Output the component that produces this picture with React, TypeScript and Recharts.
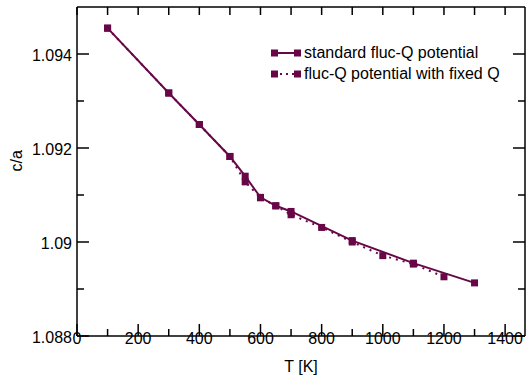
import { LineChart, Line, XAxis, YAxis, ReferenceLine } from "recharts";

const COLOR = "#670748";
const FONT = "'Liberation Sans', Arial, Helvetica, sans-serif";

// standard fluc-Q potential
const standardT = [100, 300, 400, 500, 550, 600, 650, 700, 900, 1100, 1300];
const standardCa = [1.09455, 1.09317, 1.0925, 1.09182, 1.0914, 1.09095, 1.09077, 1.09065, 1.09003, 1.08955, 1.08913];

// fluc-Q potential with fixed Q
const fixedT = [100, 300, 400, 500, 550, 600, 650, 700, 800, 900, 1000, 1100, 1200];
const fixedCa = [1.09455, 1.09317, 1.0925, 1.09182, 1.09128, 1.09094, 1.09077, 1.09058, 1.09031, 1.09, 1.08971, 1.08953, 1.08926];

const xTicks = [0, 100, 200, 300, 400, 500, 600, 700, 800, 900, 1000, 1100, 1200, 1300, 1400];
const yTicks = [1.088, 1.089, 1.09, 1.091, 1.092, 1.093, 1.094, 1.095];

const X_MAX = 1465;
const Y_MIN = 1.088;
const Y_MAX = 1.095;

const standardData = standardT.map((T, i) => ({ T, ca: standardCa[i] }));
const fixedData = fixedT.map((T, i) => ({ T, ca: fixedCa[i] }));

// plot box 448 x 328 px -> tick lengths in data units
const tPerPx = X_MAX / 448;
const yPerPx = (Y_MAX - Y_MIN) / 328;

const isMajorX = (v: number) => v % 200 === 0;
const isMajorY = (v: number) => Math.round(v * 1000) % 2 === 0;

const Square = (props: any) => {
  const { cx, cy, index } = props;
  if (cx == null || cy == null) return null;
  return <rect key={index} x={cx - 3.5} y={cy - 3.5} width={7} height={7} fill={COLOR} />;
};

const BottomTick = (props: any) => {
  const { x, y, payload } = props;
  if (!isMajorX(payload.value)) return <g />;
  return (
    <text x={x} y={y + 8} textAnchor="middle" fontSize={16} fontFamily={FONT} fill="#000" stroke="none">
      {payload.value}
    </text>
  );
};

const LeftTick = (props: any) => {
  const { x, y, payload } = props;
  if (!isMajorY(payload.value)) return <g />;
  return (
    <text x={x - 5} y={y + 6.5} textAnchor="end" fontSize={16} fontFamily={FONT} fill="#000" stroke="none">
      {String(Number(payload.value.toFixed(3)))}
    </text>
  );
};

const LegendBox = () => (
  <svg width={258} height={50} style={{ position: "absolute", left: 270, top: 42 }}>
    <g>
      <line x1={4} x2={27} y1={11} y2={11} stroke={COLOR} strokeWidth={2} />
      <rect x={1} y={7.5} width={7} height={7} fill={COLOR} />
      <rect x={24} y={7.5} width={7} height={7} fill={COLOR} />
      <text x={34} y={16} fontSize={16} fontFamily={FONT} fill="#000">
        standard fluc-Q potential
      </text>
    </g>
    <g>
      <line x1={4} x2={27} y1={32} y2={32} stroke={COLOR} strokeWidth={2} strokeDasharray="2 4" />
      <rect x={1} y={28.5} width={7} height={7} fill={COLOR} />
      <rect x={24} y={28.5} width={7} height={7} fill={COLOR} />
      <text x={34} y={37} fontSize={16} fontFamily={FONT} fill="#000">
        fluc-Q potential with fixed Q
      </text>
    </g>
  </svg>
);

const tickLineProps = { stroke: "#000", strokeWidth: 1.5, xAxisId: "bottom", yAxisId: "left", ifOverflow: "visible" as const };

export default function App() {
  return (
    <div style={{ position: "absolute", left: 0, top: 0, width: 528, height: 378, background: "#fff" }}>
      <LineChart width={528} height={378} margin={{ top: 7, right: 3, bottom: 0, left: 0 }}>
        <XAxis
          xAxisId="bottom"
          type="number"
          dataKey="T"
          domain={[0, X_MAX]}
          ticks={xTicks}
          interval={0}
          tickSize={0}
          tickMargin={0}
          tickLine={false}
          tick={<BottomTick />}
          height={42}
          stroke="#000"
          strokeWidth={1.5}
          label={{ value: "T [K]", position: "insideBottom", offset: 6, fontSize: 16, fontFamily: FONT, fill: "#000" }}
        />
        <YAxis
          yAxisId="left"
          type="number"
          domain={[Y_MIN, Y_MAX]}
          ticks={yTicks}
          interval={0}
          tickSize={0}
          tickMargin={0}
          tickLine={false}
          tick={<LeftTick />}
          width={77}
          stroke="#000"
          strokeWidth={1.5}
          label={{ value: "c/a", angle: -90, position: "insideLeft", offset: 16, fontSize: 16, fontFamily: FONT, fill: "#000" }}
        />
        {/* frame: top and right edges */}
        <ReferenceLine {...tickLineProps} y={Y_MAX} />
        <ReferenceLine {...tickLineProps} x={X_MAX} />
        {/* inward tick marks on all four sides */}
        {xTicks.map((t) => (
          <ReferenceLine
            key={`b${t}`}
            {...tickLineProps}
            segment={[{ x: t, y: Y_MIN }, { x: t, y: Y_MIN + (isMajorX(t) ? 12 : 7) * yPerPx }]}
          />
        ))}
        {xTicks.map((t) => (
          <ReferenceLine
            key={`t${t}`}
            {...tickLineProps}
            segment={[{ x: t, y: Y_MAX }, { x: t, y: Y_MAX - 8 * yPerPx }]}
          />
        ))}
        {yTicks.slice(0, -1).map((v) => (
          <ReferenceLine
            key={`l${v}`}
            {...tickLineProps}
            segment={[{ x: 0, y: v }, { x: (isMajorY(v) ? 12 : 7) * tPerPx, y: v }]}
          />
        ))}
        {yTicks.slice(0, -1).map((v) => (
          <ReferenceLine
            key={`r${v}`}
            {...tickLineProps}
            segment={[{ x: X_MAX, y: v }, { x: X_MAX - (isMajorY(v) ? 12 : 7) * tPerPx, y: v }]}
          />
        ))}
        <Line
          xAxisId="bottom"
          yAxisId="left"
          data={fixedData}
          dataKey="ca"
          type="linear"
          stroke={COLOR}
          strokeWidth={2}
          strokeDasharray="2 5"
          dot={<Square />}
          activeDot={false}
          isAnimationActive={false}
        />
        <Line
          xAxisId="bottom"
          yAxisId="left"
          data={standardData}
          dataKey="ca"
          type="linear"
          stroke={COLOR}
          strokeWidth={2}
          dot={<Square />}
          activeDot={false}
          isAnimationActive={false}
        />
      </LineChart>
      <LegendBox />
    </div>
  );
}
